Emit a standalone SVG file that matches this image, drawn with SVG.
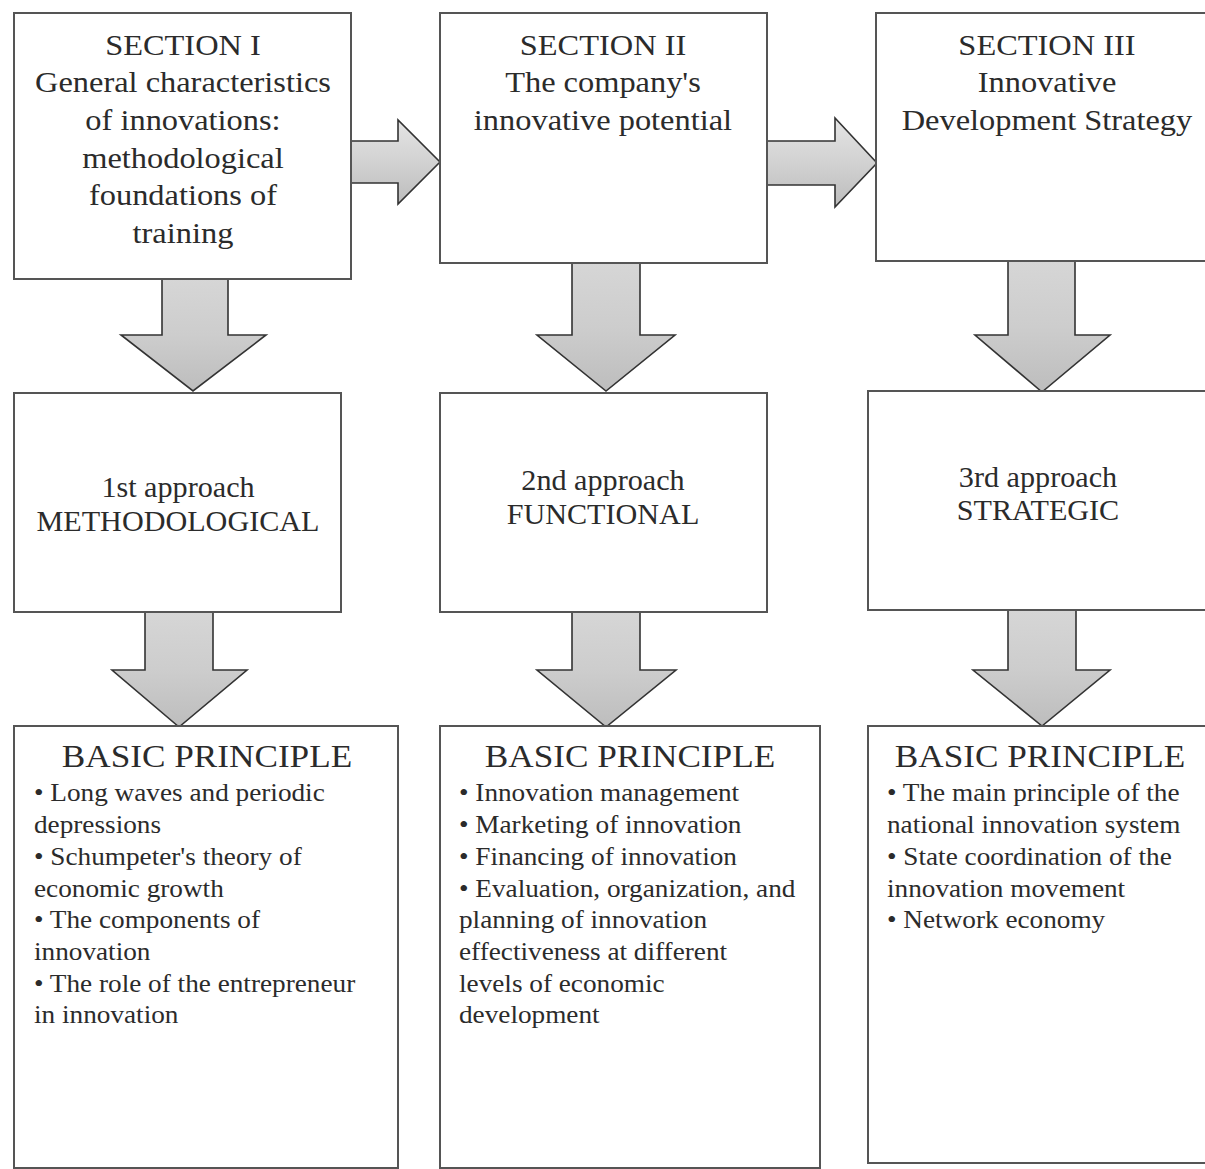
<svg xmlns="http://www.w3.org/2000/svg" width="1205" height="1169" viewBox="0 0 1205 1169">
  <defs>
    <linearGradient id="gH" x1="0" y1="0" x2="0" y2="1">
      <stop offset="0" stop-color="#e4e4e4"/>
      <stop offset="0.5" stop-color="#d2d2d2"/>
      <stop offset="1" stop-color="#bcbcbc"/>
    </linearGradient>
    <linearGradient id="gV" x1="0" y1="0" x2="0" y2="1">
      <stop offset="0" stop-color="#d6d6d6"/>
      <stop offset="0.5" stop-color="#cdcdcd"/>
      <stop offset="1" stop-color="#bdbdbd"/>
    </linearGradient>
    <style>
      .box { fill: #ffffff; stroke: #555555; stroke-width: 2; }
      .arrowH { fill: url(#gH); stroke: #333333; stroke-width: 1.6; stroke-linejoin: miter; }
      .arrowV { fill: url(#gV); stroke: #333333; stroke-width: 1.6; stroke-linejoin: miter; }
      text { font-family: "Liberation Serif", "Times New Roman", serif; fill: #2b2b2b; transform-box: fill-box; }
      .sec { font-size: 30px; text-anchor: middle; transform-origin: center; transform: scaleX(1.08); }
      .app { font-size: 29px; text-anchor: middle; transform-origin: center; transform: scaleX(1.04); }
      .head { font-size: 32px; text-anchor: middle; transform-origin: center; transform: scaleX(1.1); }
      .item { font-size: 25px; transform-origin: left center; transform: scaleX(1.09); }
    </style>
  </defs>
  <rect width="1205" height="1169" fill="#ffffff"/>

  <!-- connectors: block arrows between the boxes -->
  <g id="connectors">
    <path class="arrowH" d="M351,141 H398 V120 L440,162 L398,204 V183 H351 Z"/>
    <path class="arrowH" d="M767,141 H835 V118 L877,163 L835,207 V185 H767 Z"/>
    <path class="arrowV" d="M162,279 V335 H121 L193,391 L266,335 H228 V279 Z"/>
    <path class="arrowV" d="M572,263 V335 H537 L606,391 L675,335 H640 V263 Z"/>
    <path class="arrowV" d="M1008,261 V335 H975 L1042,392 L1110,335 H1075 V261 Z"/>
    <path class="arrowV" d="M145,612 V670 H112 L179,727 L247,670 H213 V612 Z"/>
    <path class="arrowV" d="M572,612 V670 H537 L606,727 L676,670 H640 V612 Z"/>
    <path class="arrowV" d="M1008,610 V670 H973 L1042,726 L1110,670 H1076 V610 Z"/>
  </g>

  <g id="section1">
    <rect class="box" x="14" y="13" width="337" height="266"/>
    <text class="sec" x="183" y="55">SECTION I</text>
    <text class="sec" x="183" y="92">General characteristics</text>
    <text class="sec" x="183" y="130">of innovations:</text>
    <text class="sec" x="183" y="168">methodological</text>
    <text class="sec" x="183" y="205">foundations of</text>
    <text class="sec" x="183" y="243">training</text>
  </g>

  <g id="section2">
    <rect class="box" x="440" y="13" width="327" height="250"/>
    <text class="sec" x="603" y="55">SECTION II</text>
    <text class="sec" x="603" y="92">The company's</text>
    <text class="sec" x="603" y="130">innovative potential</text>
  </g>

  <g id="section3">
    <rect class="box" x="876" y="13" width="340" height="248"/>
    <text class="sec" x="1047" y="55">SECTION III</text>
    <text class="sec" x="1047" y="92">Innovative</text>
    <text class="sec" x="1047" y="130">Development Strategy</text>
  </g>

  <g id="approach1">
    <rect class="box" x="14" y="393" width="327" height="219"/>
    <text class="app" x="178" y="497">1st approach</text>
    <text class="app" x="178" y="531">METHODOLOGICAL</text>
  </g>

  <g id="approach2">
    <rect class="box" x="440" y="393" width="327" height="219"/>
    <text class="app" x="603" y="490">2nd approach</text>
    <text class="app" x="603" y="524">FUNCTIONAL</text>
  </g>

  <g id="approach3">
    <rect class="box" x="868" y="391" width="348" height="219"/>
    <text class="app" x="1038" y="487">3rd approach</text>
    <text class="app" x="1038" y="520">STRATEGIC</text>
  </g>

  <g id="principle1">
    <rect class="box" x="14" y="726" width="384" height="442"/>
    <text class="head" x="207" y="767">BASIC PRINCIPLE</text>
    <text class="item" x="34" y="801">• Long waves and periodic</text>
    <text class="item" x="34" y="833">depressions</text>
    <text class="item" x="34" y="865">• Schumpeter's theory of</text>
    <text class="item" x="34" y="897">economic growth</text>
    <text class="item" x="34" y="928">• The components of</text>
    <text class="item" x="34" y="960">innovation</text>
    <text class="item" x="34" y="992">• The role of the entrepreneur</text>
    <text class="item" x="34" y="1023">in innovation</text>
  </g>

  <g id="principle2">
    <rect class="box" x="440" y="726" width="380" height="442"/>
    <text class="head" x="630" y="767">BASIC PRINCIPLE</text>
    <text class="item" x="459" y="801">• Innovation management</text>
    <text class="item" x="459" y="833">• Marketing of innovation</text>
    <text class="item" x="459" y="865">• Financing of innovation</text>
    <text class="item" x="459" y="897">• Evaluation, organization, and</text>
    <text class="item" x="459" y="928">planning of innovation</text>
    <text class="item" x="459" y="960">effectiveness at different</text>
    <text class="item" x="459" y="992">levels of economic</text>
    <text class="item" x="459" y="1023">development</text>
  </g>

  <g id="principle3">
    <rect class="box" x="868" y="726" width="348" height="437"/>
    <text class="head" x="1040" y="767">BASIC PRINCIPLE</text>
    <text class="item" x="887" y="801">• The main principle of the</text>
    <text class="item" x="887" y="833">national innovation system</text>
    <text class="item" x="887" y="865">• State coordination of the</text>
    <text class="item" x="887" y="897">innovation movement</text>
    <text class="item" x="887" y="928">• Network economy</text>
  </g>
</svg>
